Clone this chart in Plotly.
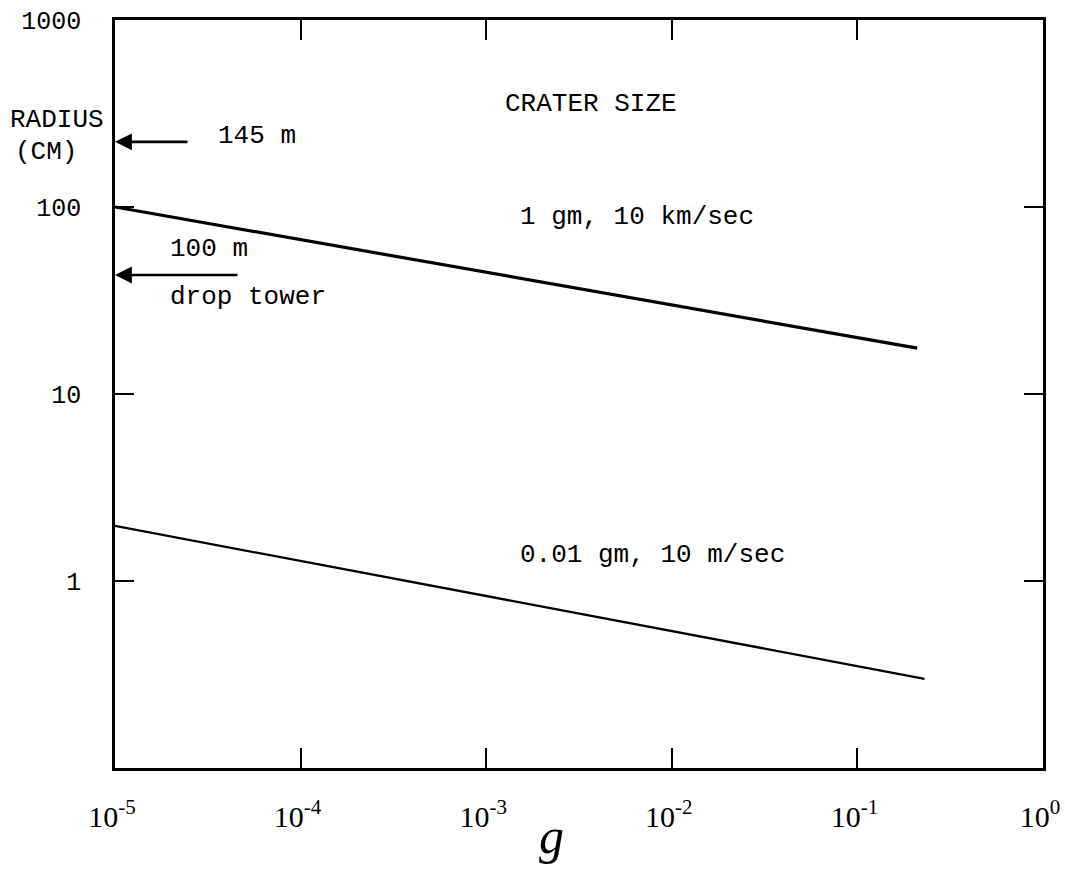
import math
import plotly.graph_objects as go

# ---- data ----
g_levels = [1e-5, 1e-4, 1e-3, 1e-2, 1e-1, 1e0]
g_ticktext = ["10<sup>-5</sup>", "10<sup>-4</sup>", "10<sup>-3</sup>",
              "10<sup>-2</sup>", "10<sup>-1</sup>", "10<sup>0</sup>"]
radius_ticks = [1000, 100, 10, 1]
radius_ticktext = ["1000", "100", "10", "1"]

series_names = ["1 gm, 10 km/sec", "0.01 gm, 10 m/sec"]
g_upper = [1e-5, 0.21]
radius_upper = [100, 17.6]
g_lower = [1e-5, 0.23]
radius_lower = [1.97, 0.30]

marker_labels = ["145 m", "100 m"]
marker_radius = [223, 43.3]

# ---- layout geometry (pixels of the page) ----
W, H = 1065, 872
L, R, T, B = 115, 22, 20, 104
PW, PH = W - L - R, H - T - B


def px(x):
    return (x - L) / PW


def py(y):
    return (H - B - y) / PH


MONO = "Liberation Mono, Courier New, monospace"
SERIF = "Liberation Serif, Times New Roman, serif"

fig = go.Figure()
fig.add_trace(go.Scatter(x=g_upper, y=radius_upper, mode="lines",
                         name=series_names[0],
                         line=dict(color="black", width=3.2)))
fig.add_trace(go.Scatter(x=g_lower, y=radius_lower, mode="lines",
                         name=series_names[1],
                         line=dict(color="black", width=2.3)))

ann = []
# arrows to the radius axis
arrow_tails = [77, 127]
for val, tail in zip(marker_radius, arrow_tails):
    ann.append(dict(x=-5, y=math.log10(val), xref="x", yref="y", text=" ",
                    showarrow=True, ax=tail, ay=0, arrowhead=2, arrowsize=1.3,
                    arrowwidth=2.6, arrowcolor="black", standoff=0,
                    font=dict(family=MONO, size=10, color="black")))

texts = [
    ("RADIUS", 8, 120, "left"),
    ("(CM)", 13, 152, "left"),
    ("CRATER SIZE", 503, 104, "left"),
    (series_names[0], 518, 217, "left"),
    (series_names[1], 518, 555, "left"),
    (marker_labels[0], 216, 136, "left"),
    (marker_labels[1], 168, 249, "left"),
    ("drop tower", 168, 297, "left"),
]
for t, x, y, anc in texts:
    ann.append(dict(x=px(x), y=py(y), xref="paper", yref="paper", text=t,
                    showarrow=False, xanchor=anc, yanchor="middle",
                    font=dict(family=MONO, size=26, color="black")))

# axis title "g"
ann.append(dict(x=px(551), y=py(836), xref="paper", yref="paper",
                text="<i>g</i>", showarrow=False, xanchor="center",
                yanchor="middle",
                font=dict(family=SERIF, size=50, color="black")))

fig.update_layout(
    width=W, height=H,
    margin=dict(l=L, r=R, t=T, b=B, autoexpand=False),
    paper_bgcolor="white", plot_bgcolor="white",
    showlegend=False,
    annotations=ann,
    xaxis=dict(type="log", range=[-5, 0], tickvals=g_levels,
               ticktext=g_ticktext, ticks="inside", ticklen=20,
               tickwidth=2.2, tickcolor="black", showline=True,
               linecolor="black", linewidth=2.6, mirror="ticks",
               showgrid=False, zeroline=False, ticklabelstandoff=20,
               ticklabelshift=-3,
               tickfont=dict(family=SERIF, size=30, color="black")),
    yaxis=dict(type="log", range=[-1, 3], tickvals=radius_ticks,
               ticktext=radius_ticktext, ticks="inside", ticklen=19,
               tickwidth=2.4, tickcolor="black", showline=True,
               linecolor="black", linewidth=2.6, mirror="ticks",
               showgrid=False, zeroline=False, ticklabelstandoff=26,
               tickfont=dict(family=MONO, size=25, color="black")),
)

fig.write_html("out.html",
               config={"displayModeBar": False},
               post_script="document.body.style.margin='0';"
                           "document.body.style.overflow='hidden';")
